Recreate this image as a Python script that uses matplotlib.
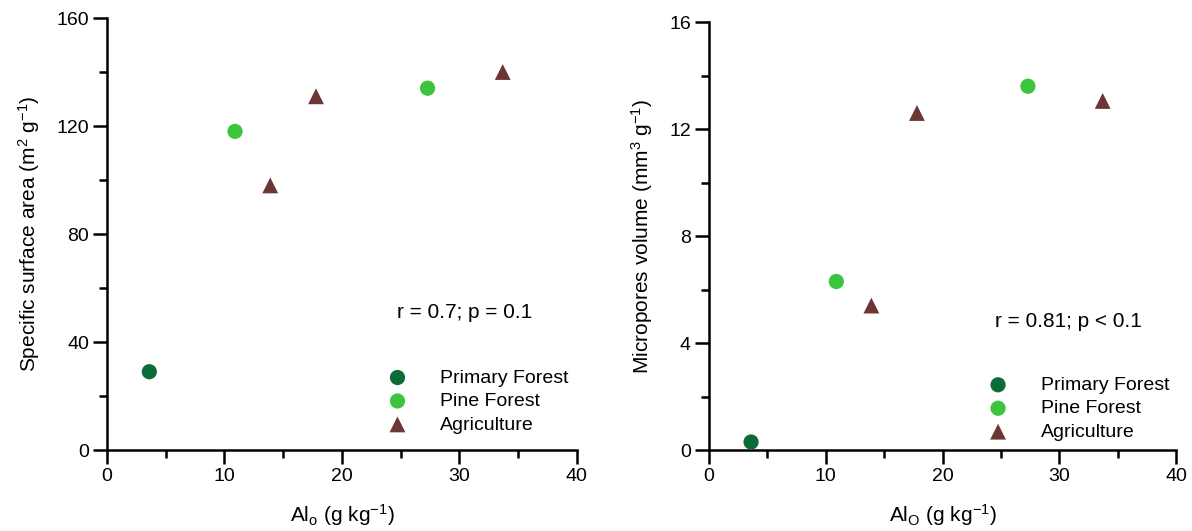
import matplotlib
matplotlib.use("Agg")
import matplotlib.pyplot as plt
from matplotlib.ticker import MultipleLocator

plt.rcParams['font.family'] = ['Liberation Sans', 'DejaVu Sans']
plt.rcParams['mathtext.fontset'] = 'custom'
plt.rcParams['mathtext.rm'] = 'Liberation Sans'
plt.rcParams['mathtext.it'] = 'Liberation Sans'

# Data
groups = ["Primary Forest", "Pine Forest", "Agriculture"]
colors = ["#0d6b36", "#3cc43c", "#6b3634"]
markers = ["o", "o", "^"]

al_primary = [3.6]
al_pine = [10.9, 27.3]
al_agri = [13.9, 17.8, 33.7]

ssa_primary = [29]
ssa_pine = [118, 134]
ssa_agri = [98, 131, 140]

mpv_primary = [0.3]
mpv_pine = [6.3, 13.6]
mpv_agri = [5.4, 12.6, 13.05]

fig = plt.figure(figsize=(11.92, 5.31), dpi=100)
ax1 = fig.add_axes([0.0898, 0.1525, 0.394, 0.8136])
ax2 = fig.add_axes([0.5948, 0.1525, 0.392, 0.806])

def style(ax, ymax, ymajor, yminor):
    ax.set_xlim(0, 40)
    ax.set_ylim(0, ymax)
    ax.xaxis.set_major_locator(MultipleLocator(10))
    ax.xaxis.set_minor_locator(MultipleLocator(5))
    ax.yaxis.set_major_locator(MultipleLocator(ymajor))
    ax.yaxis.set_minor_locator(MultipleLocator(yminor))
    for s in ["top", "right"]:
        ax.spines[s].set_visible(False)
    for s in ["left", "bottom"]:
        ax.spines[s].set_linewidth(1.8)
    ax.tick_params(which="major", direction="out", length=10, width=1.8, labelsize=14, pad=3, color="black")
    ax.tick_params(which="minor", direction="out", length=6, width=1.8)

def plot_panel(ax, ys):
    xs = [al_primary, al_pine, al_agri]
    for x, y, c, m, g in zip(xs, ys, colors, markers, groups):
        ax.scatter(x, y, s=120 if m == "o" else 130, c=c, marker=m, label=g,
                   edgecolors="none", clip_on=False, zorder=3)

plot_panel(ax1, [ssa_primary, ssa_pine, ssa_agri])
plot_panel(ax2, [mpv_primary, mpv_pine, mpv_agri])

style(ax1, 160, 40, 20)
style(ax2, 16, 4, 2)

ax1.set_ylabel(r"Specific surface area (m$^{2}$ g$^{-1}$)", fontsize=15, labelpad=10)
ax2.set_ylabel(r"Micropores volume (mm$^{3}$ g$^{-1}$)", fontsize=15, labelpad=10)
ax1.set_xlabel(r"Al$_{\mathregular{o}}$ (g kg$^{-1}$)", fontsize=15, labelpad=12)
ax2.set_xlabel(r"Al$_{\mathregular{O}}$ (g kg$^{-1}$)", fontsize=15, labelpad=12)

ax1.text(0.617, 0.319, "r = 0.7; p = 0.1", transform=ax1.transAxes,
         fontsize=15, va="center", ha="left")
ax2.text(0.612, 0.301, "r = 0.81; p < 0.1", transform=ax2.transAxes,
         fontsize=15, va="center", ha="left")

for ax, anchor in [(ax1, (0.577, 0.21)), (ax2, (0.577, 0.195))]:
    ax.legend(loc="upper left", bbox_to_anchor=anchor, frameon=False,
              fontsize=14, handlelength=1.0, handletextpad=1.7,
              labelspacing=0.3, borderpad=0, scatterpoints=1)

fig.savefig("out.png", dpi=100)
